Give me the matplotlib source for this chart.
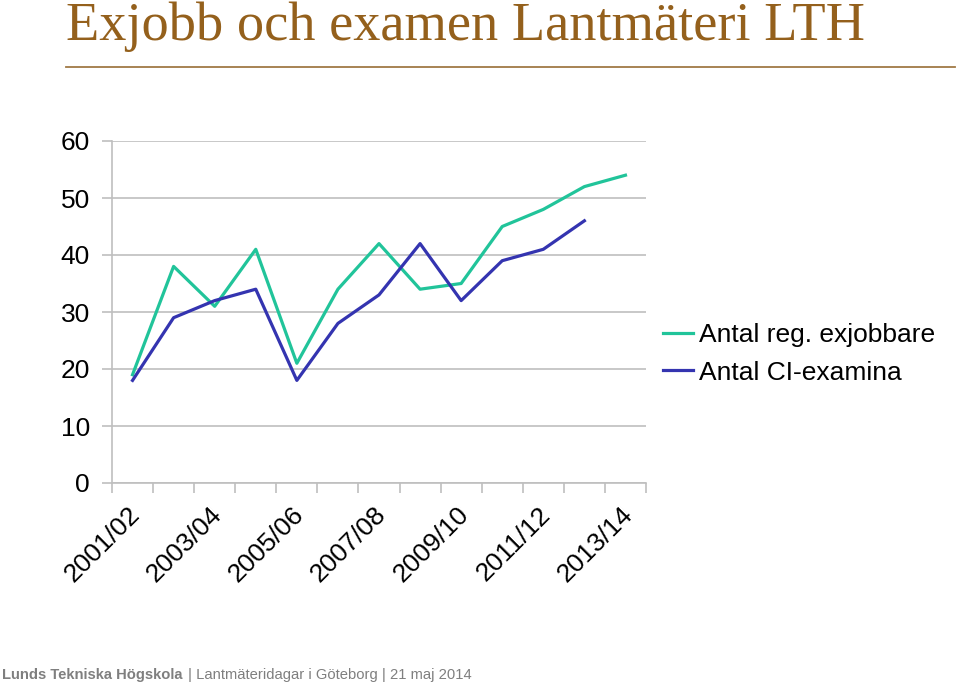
import matplotlib
matplotlib.use('Agg')
import matplotlib.pyplot as plt
import matplotlib.transforms as mtransforms
import numpy as np

# data
years = ['2001/02', '2002/03', '2003/04', '2004/05', '2005/06', '2006/07', '2007/08',
         '2008/09', '2009/10', '2010/11', '2011/12', '2012/13', '2013/14']
exjobbare = [19, 38, 31, 41, 21, 34, 42, 34, 35, 45, 48, 52, 54]
examina = [18, 29, 32, 34, 18, 28, 33, 42, 32, 39, 41, 46, np.nan]
yticks = [0, 10, 20, 30, 40, 50, 60]

plt.rcParams['font.family'] = ['Liberation Sans', 'DejaVu Sans']

fig = plt.figure(figsize=(9.6, 6.83), dpi=100)

# title + rule
fig.text(66/960, 1 - 40/683, 'Exjobb och examen Lantmäteri LTH', family='Liberation Serif',
         fontsize=39.2, color='#94601C', va='baseline', ha='left')
fig.add_artist(plt.Line2D([66/960, 955/960], [1 - 67/683, 1 - 67/683], color='#A07A45', lw=1.3))

ax = fig.add_axes([112/960, (683-483)/683, (646-112)/960, (483-141)/683])
x = np.arange(len(years))
ax.plot(x, exjobbare, color='#21C49A', lw=2.3, label='Antal reg. exjobbare')
ax.plot(x, examina, color='#3434B0', lw=2.3, label='Antal CI-examina')

ax.set_xlim(-0.5, len(years) - 0.5)
ax.set_ylim(0, 60)
ax.set_yticks(yticks)
ax.set_yticklabels([str(v) for v in yticks], fontsize=19)
ax.yaxis.grid(True, color='#BFBFBF', lw=1.2)
ax.set_axisbelow(True)

ax.set_xticks(x[::2])
ax.set_xticklabels(years[::2], rotation=45, ha='right', va='top', rotation_mode='anchor', fontsize=19)
ax.set_xticks(np.arange(len(years) + 1) - 0.5, minor=True)
ax.tick_params(axis='x', which='major', length=0, pad=14)
ax.tick_params(axis='x', which='minor', length=7, color='#BFBFBF', width=1.2)
ax.tick_params(axis='y', length=7, color='#BFBFBF', width=1.2, pad=9)
# nudge rotated labels a bit left (after tick_params, which resets transforms)
shift = mtransforms.ScaledTranslation(-5/100, 0, fig.dpi_scale_trans)
for lab in ax.get_xticklabels():
    lab.set_transform(lab.get_transform() + shift)

for s in ['top', 'right']:
    ax.spines[s].set_visible(False)
for s in ['left', 'bottom']:
    ax.spines[s].set_color('#BFBFBF')
    ax.spines[s].set_linewidth(1.2)

ax.legend(loc='center left', bbox_to_anchor=((663-112)/534, (483-354)/342), frameon=False, fontsize=19,
          borderpad=0, borderaxespad=0, handlelength=1.15, handletextpad=0.2, labelspacing=0.5)

# footer
fig.text(2/960, 1 - 675/683, 'Lunds Tekniska Högskola', fontsize=10.6, weight='bold',
         color='#7F7F7F', va='center', ha='left')
fig.text(188/960, 1 - 675/683, '| Lantmäteridagar i Göteborg | 21 maj 2014', fontsize=10.6,
         color='#7F7F7F', va='center', ha='left')

fig.savefig('out.png', dpi=100)
